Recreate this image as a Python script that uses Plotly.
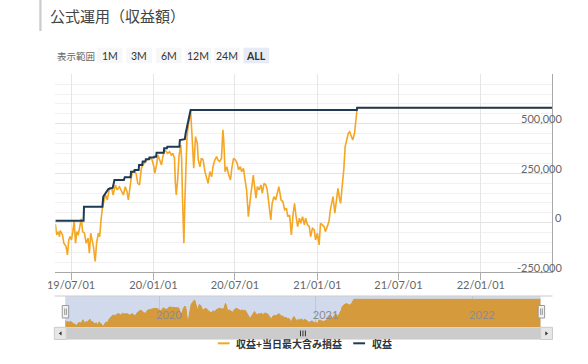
import plotly.graph_objects as go

# ---------------- data ----------------
title_text = "公式運用（収益額）"
series_names = ["収益+当日最大含み損益", "収益"]
range_label = "表示範囲"
range_buttons = ["1M", "3M", "6M", "12M", "24M", "ALL"]

pl_dates = [
    "2019-05-27", "2019-05-30", "2019-06-03", "2019-06-05", "2019-06-07", "2019-06-12",
    "2019-06-15", "2019-06-20", "2019-06-23", "2019-06-26", "2019-06-29", "2019-07-02",
    "2019-07-05", "2019-07-08", "2019-07-11", "2019-07-14", "2019-07-17", "2019-07-20",
    "2019-07-24", "2019-07-27", "2019-07-31", "2019-08-04", "2019-08-08", "2019-08-11",
    "2019-08-14", "2019-08-17", "2019-08-20", "2019-08-24", "2019-08-27", "2019-08-31",
    "2019-09-03", "2019-09-06", "2019-09-09", "2019-09-13", "2019-09-16", "2019-09-20",
    "2019-09-24", "2019-09-30", "2019-10-03", "2019-10-08", "2019-10-12", "2019-10-17",
    "2019-10-22", "2019-10-26", "2019-10-30", "2019-11-03", "2019-11-06", "2019-11-10",
    "2019-11-13", "2019-11-16", "2019-11-20", "2019-11-24", "2019-11-27", "2019-12-01",
    "2019-12-05", "2019-12-09", "2019-12-12", "2019-12-16", "2019-12-20", "2019-12-25",
    "2019-12-29", "2020-01-02", "2020-01-04", "2020-01-08", "2020-01-11", "2020-01-15",
    "2020-01-19", "2020-01-22", "2020-01-26", "2020-01-30", "2020-02-02", "2020-02-06",
    "2020-02-10", "2020-02-13", "2020-02-17", "2020-02-19", "2020-02-21", "2020-02-24",
    "2020-02-27", "2020-03-02", "2020-03-04", "2020-03-06", "2020-03-09", "2020-03-11",
    "2020-03-13", "2020-03-16", "2020-03-19", "2020-03-22", "2020-03-24", "2020-03-27",
    "2020-03-31", "2020-04-04", "2020-04-08", "2020-04-10", "2020-04-14", "2020-04-17",
    "2020-04-21", "2020-04-25", "2020-04-28", "2020-05-02", "2020-05-06", "2020-05-10",
    "2020-05-13", "2020-05-17", "2020-05-21", "2020-05-24", "2020-05-28", "2020-06-01",
    "2020-06-04", "2020-06-06", "2020-06-09", "2020-06-13", "2020-06-16", "2020-06-21",
    "2020-06-24", "2020-06-28", "2020-07-02", "2020-07-06", "2020-07-09", "2020-07-13",
    "2020-07-16", "2020-07-20", "2020-07-23", "2020-07-27", "2020-07-29", "2020-07-31",
    "2020-08-04", "2020-08-07", "2020-08-11", "2020-08-13", "2020-08-17", "2020-08-20",
    "2020-08-24", "2020-08-28", "2020-08-31", "2020-09-04", "2020-09-08", "2020-09-11",
    "2020-09-15", "2020-09-19", "2020-09-22", "2020-09-26", "2020-09-30", "2020-10-03",
    "2020-10-07", "2020-10-09", "2020-10-12", "2020-10-16", "2020-10-20", "2020-10-24",
    "2020-10-27", "2020-10-31", "2020-11-04", "2020-11-08", "2020-11-11", "2020-11-14",
    "2020-11-18", "2020-11-22", "2020-11-25", "2020-11-29", "2020-12-03", "2020-12-06",
    "2020-12-10", "2020-12-14", "2020-12-17", "2020-12-21", "2020-12-25", "2020-12-28",
    "2021-01-01", "2021-01-05", "2021-01-08", "2021-01-12", "2021-01-16", "2021-01-19",
    "2021-01-23", "2021-01-27", "2021-01-30", "2021-02-03", "2021-02-05", "2021-02-09",
    "2021-02-12", "2021-02-16", "2021-02-20", "2021-02-22", "2021-02-25", "2021-03-01",
    "2021-03-04", "2021-03-07", "2021-03-11", "2021-03-14", "2021-03-18", "2021-03-21",
    "2021-03-25", "2021-03-29", "2021-03-31", "2022-06-10",
]
pl_values = [
    -6000, -62000, -45000, -70000, -40000, -62000,
    -104000, -121000, -163000, -87000, -70000, -87000,
    -45000, 8000, -104000, -45000, -62000, -20000,
    20000, -45000, -53000, -104000, -78000, -154000,
    -53000, -87000, -121000, -196000, -104000, -53000,
    -70000, 14000, 73000, 115000, 140000, 115000,
    166000, 174000, 140000, 191000, 166000, 182000,
    157000, 140000, 182000, 157000, 115000, 191000,
    236000, 258000, 265000, 241000, 199000, 191000,
    275000, 292000, 305000, 317000, 321000, 326000,
    317000, 283000, 250000, 292000, 342000, 317000,
    292000, 334000, 368000, 359000, 351000, 359000,
    342000, 351000, 326000, 199000, 140000, 216000,
    334000, 393000, 317000, 115000, -104000, 98000,
    283000, 435000, 494000, 536000, 565000, 448000,
    275000, 435000, 401000, 317000, 283000, 326000,
    317000, 258000, 233000, 199000, 258000, 233000,
    283000, 317000, 334000, 317000, 309000, 326000,
    469000, 418000, 258000, 283000, 250000, 216000,
    275000, 326000, 317000, 300000, 267000, 283000,
    258000, 275000, 225000, 166000, 98000, 31000,
    115000, 166000, 241000, 199000, 124000, 182000,
    166000, 191000, 149000, 199000, 191000, 166000,
    98000, 14000, 98000, 132000, 115000, 140000,
    182000, 157000, 115000, 107000, 65000, 73000,
    31000, 39000, -62000, 48000, 98000, 39000,
    -20000, 23000, -3000, 31000, -11000, 23000,
    -11000, -20000, -70000, -28000, -36000, -87000,
    -53000, -112000, -3000, -11000, -20000, -45000,
    -20000, 6000, 65000, 115000, 132000, 48000,
    107000, 174000, 115000, 98000, 174000, 267000,
    384000, 418000, 452000, 460000, 435000, 418000,
    452000, 553000, 581000, 581000,
]

rev_dates = [
    "2019-05-27", "2019-07-29", "2019-07-30", "2019-09-09", "2019-09-11", "2019-09-15",
    "2019-09-19", "2019-09-22", "2019-09-26", "2019-10-02", "2019-10-06", "2019-10-27",
    "2019-10-29", "2019-11-11", "2019-11-12", "2019-11-19", "2019-11-20", "2019-11-29",
    "2019-11-30", "2019-12-07", "2019-12-08", "2019-12-14", "2019-12-15", "2019-12-22",
    "2019-12-23", "2020-01-02", "2020-01-03", "2020-01-07", "2020-01-08", "2020-01-24",
    "2020-01-25", "2020-01-31", "2020-02-01", "2020-02-28", "2020-02-29", "2020-03-11",
    "2020-03-13", "2020-03-18", "2020-03-24", "2021-03-30", "2021-03-31", "2022-06-10",
]
rev_values = [
    10000, 10000, 81000, 81000, 132000, 144000,
    157000, 169000, 174000, 176000, 216000, 216000,
    230000, 230000, 258000, 258000, 267000, 267000,
    292000, 292000, 309000, 309000, 321000, 321000,
    329000, 329000, 334000, 334000, 354000, 354000,
    376000, 376000, 384000, 384000, 418000, 422000,
    452000, 510000, 570000, 570000, 581000, 581000,
]

x_ticks = ["2019-07-01", "2020-01-01", "2020-07-01", "2021-01-01", "2021-07-01", "2022-01-01"]
y_ticks = [-250000, 0, 250000, 500000]
y_grid = [-250000, 0, 250000, 500000, 750000]
y_range = [-250000, 750000]
nav_years = ["2020-01-01", "2021-01-01", "2022-01-01"]
nav_range = [-205000, 674000]

# ---------------- styling ----------------
W, H = 588, 364
ORANGE = "#f5a623"
NAVY = "#1d3a56"
NAV_FILL = "#d49a3c"
NAV_BG = "#d1daed"
FONT = "Lato"
JP = "Noto Sans CJK JP"


def fx(x):
    return x / W


def fy(y):
    return 1 - y / H


fig = go.Figure()

fig.add_trace(go.Scatter(
    x=pl_dates, y=pl_values, mode="lines", name=series_names[0],
    line=dict(color=ORANGE, width=1.6), xaxis="x", yaxis="y"))
fig.add_trace(go.Scatter(
    x=rev_dates, y=rev_values, mode="lines", name=series_names[1],
    line=dict(color=NAVY, width=2), xaxis="x", yaxis="y"))

# navigator (area of first series)
fig.add_trace(go.Scatter(
    x=[pl_dates[0], pl_dates[-1]], y=[nav_range[0], nav_range[0]], mode="lines",
    line=dict(width=0, color=NAV_FILL), xaxis="x2", yaxis="y2",
    hoverinfo="skip", showlegend=False))
fig.add_trace(go.Scatter(
    x=pl_dates, y=pl_values, mode="lines", fill="tonexty", fillcolor=NAV_FILL,
    line=dict(color=NAV_FILL, width=1), xaxis="x2", yaxis="y2",
    hoverinfo="skip", showlegend=False))

shapes = []
annotations = []

# title + bar
shapes.append(dict(type="rect", xref="paper", yref="paper",
                   x0=fx(31.7), x1=fx(34), y0=fy(31), y1=fy(0),
                   fillcolor="#cccccc", line=dict(width=0)))
annotations.append(dict(text=title_text, xref="paper", yref="paper",
                        x=fx(41), y=fy(15.5), xanchor="left", yanchor="middle",
                        showarrow=False, font=dict(family=JP, size=15, color="#444444")))

# range selector
annotations.append(dict(text=range_label, xref="paper", yref="paper",
                        x=fx(48), y=fy(55.5), xanchor="left", yanchor="middle",
                        showarrow=False, font=dict(family=JP, size=9.5, color="#666666")))
btn_x = [90, 120, 150, 180, 209, 238.7]
for lbl, bx in zip(range_buttons, btn_x):
    active = lbl == "ALL"
    shapes.append(dict(type="rect", xref="paper", yref="paper",
                       x0=fx(bx), x1=fx(bx + 26), y0=fy(63.3), y1=fy(47.7),
                       fillcolor="#e6ebf5" if active else "#f7f7f7", line=dict(width=0)))
    annotations.append(dict(text=f"<b>{lbl}</b>" if active else lbl,
                            xref="paper", yref="paper",
                            x=fx(bx + 13), y=fy(55.5), xanchor="center", yanchor="middle",
                            showarrow=False, font=dict(family=FONT, size=10.5, color="#333333")))

# y tick labels (drawn over the right axis line, above their gridlines)
for v in y_ticks:
    annotations.append(dict(text=f"{v:,}", xref="paper", yref="y", x=fx(564), y=v,
                            xanchor="right", yanchor="middle", yshift=5, showarrow=False,
                            font=dict(family=FONT, size=11, color="#666666")))

# navigator background + outline
shapes.append(dict(type="rect", xref="x2 domain", yref="y2 domain", x0=0, x1=1, y0=0, y1=1,
                   fillcolor=NAV_BG, line=dict(width=0), layer="below"))
shapes.append(dict(type="line", xref="paper", yref="paper", x0=fx(47), x1=fx(552),
                   y0=fy(296), y1=fy(296), line=dict(color="#cccccc", width=1)))

# scrollbar
shapes.append(dict(type="rect", xref="paper", yref="paper", x0=fx(47), x1=fx(552),
                   y0=fy(339.5), y1=fy(327.3), fillcolor="#f2f2f2", line=dict(width=0)))
shapes.append(dict(type="rect", xref="paper", yref="paper", x0=fx(59), x1=fx(540),
                   y0=fy(339.5), y1=fy(327.3), fillcolor="#cccccc", line=dict(width=0)))
for bx0 in (47, 540):
    shapes.append(dict(type="rect", xref="paper", yref="paper", x0=fx(bx0), x1=fx(bx0 + 12),
                       y0=fy(339.5), y1=fy(327.3), fillcolor="#e6e6e6",
                       line=dict(color="#cccccc", width=1)))
shapes.append(dict(type="path", xref="paper", yref="paper",
                   path=f"M {fx(54.3)} {fy(331.3)} L {fx(51.5)} {fy(333.4)} L {fx(54.3)} {fy(335.5)} Z",
                   fillcolor="#333333", line=dict(width=0)))
shapes.append(dict(type="path", xref="paper", yref="paper",
                   path=f"M {fx(544.7)} {fy(331.3)} L {fx(547.5)} {fy(333.4)} L {fx(544.7)} {fy(335.5)} Z",
                   fillcolor="#333333", line=dict(width=0)))
for gx in (296.5, 299, 301.5):
    shapes.append(dict(type="line", xref="paper", yref="paper", x0=fx(gx), x1=fx(gx),
                       y0=fy(330.5), y1=fy(336.3), line=dict(color="#333333", width=1)))

# navigator handles
for hx in (55, 537.5):
    shapes.append(dict(type="rect", xref="paper", yref="paper", x0=fx(hx), x1=fx(hx + 6.5),
                       y0=fy(318), y1=fy(305.5), fillcolor="#f2f2f2",
                       line=dict(color="#999999", width=1)))
    for lx in (hx + 2.5, hx + 4.2):
        shapes.append(dict(type="line", xref="paper", yref="paper", x0=fx(lx), x1=fx(lx),
                           y0=fy(308.5), y1=fy(315), line=dict(color="#999999", width=1)))

# legend
leg = [(212.7, 229, series_names[0], ORANGE), (350, 366.7, series_names[1], NAVY)]
for sx, tx, name, col in leg:
    shapes.append(dict(type="line", xref="paper", yref="paper", x0=fx(sx), x1=fx(sx + 12),
                       y0=fy(343.3), y1=fy(343.3), line=dict(color=col, width=2)))
    annotations.append(dict(text=f"<b>{name}</b>", xref="paper", yref="paper",
                            x=fx(tx), y=fy(343.5), xanchor="left", yanchor="middle",
                            showarrow=False, font=dict(family=JP, size=10, color="#333333")))

fig.update_layout(
    width=W, height=H,
    margin=dict(l=0, r=0, t=0, b=0),
    paper_bgcolor="white", plot_bgcolor="white",
    showlegend=False,
    font=dict(family=FONT, size=11, color="#666666"),
    xaxis=dict(
        domain=[fx(48), fx(552)], anchor="y", type="date",
        range=[pl_dates[0], pl_dates[-1]],
        tickvals=x_ticks, tickformat="%y/%m/%d",
        ticks="outside", ticklen=7, tickcolor="#b0b0b0", ticklabelstandoff=-4,
        showgrid=True, gridcolor="#e6e6e6", gridwidth=1,
        showline=True, linecolor="#a8a8a8", linewidth=1,
        zeroline=False, tickfont=dict(family=FONT, size=11, color="#666666"),
    ),
    yaxis=dict(
        domain=[fy(272.2), fy(74.3)], anchor="x", side="right",
        range=y_range, tickvals=y_grid, showticklabels=False,
        showgrid=True, gridcolor="#e3e3e3", gridwidth=1,
        minor=dict(dtick=50000, tick0=0, showgrid=True, gridcolor="#f1f1f1", gridwidth=1),
        showline=True, linecolor="#a8a8a8", linewidth=1, zeroline=False, ticks="",
    ),
    xaxis2=dict(
        domain=[fx(58), fx(540)], anchor="y2", type="date",
        range=[pl_dates[0], pl_dates[-1]],
        tickvals=nav_years, tickformat="%Y", ticklabelposition="inside right",
        ticklabelshift=-3,
        ticks="", showgrid=True, gridcolor="#bcc5da", showline=False, zeroline=False,
        tickfont=dict(family=FONT, size=11, color="#8c8c8c"),
    ),
    yaxis2=dict(
        domain=[fy(327.3), fy(296)], anchor="x2", range=nav_range,
        visible=False, showgrid=False, zeroline=False,
    ),
    shapes=shapes,
    annotations=annotations,
)

fig.write_html("out.html", config={"displayModeBar": False},
               post_script="document.body.style.margin='0';")
